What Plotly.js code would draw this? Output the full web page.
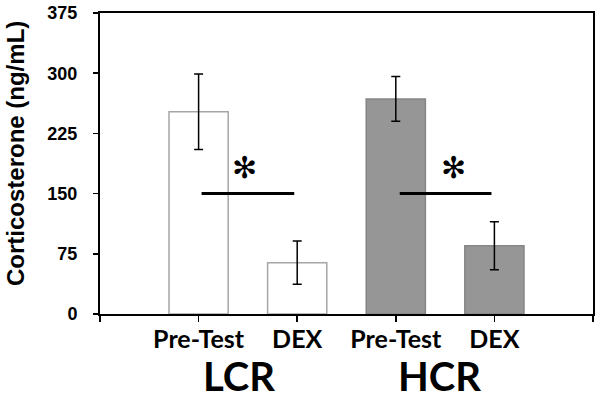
<!DOCTYPE html>
<html>
<head>
<meta charset="utf-8">
<script src="https://cdn.plot.ly/plotly-3.0.1.min.js"></script>
<style>html,body{margin:0;padding:0;background:#fff;}#chart{width:600px;height:402px;}</style>
</head>
<body>
<div id="chart"></div>
<script>
// Data
const groups = ["LCR", "HCR"];
const conditions = ["Pre-Test", "DEX"];
const lcrMeans = [252, 64];
const lcrErrors = [47, 27];
const hcrMeans = [268, 85];
const hcrErrors = [28, 30];
const sigLevel = 150;
const sigMark = "✻";
const yTicks = [0, 75, 150, 225, 300, 375];
const yTitle = "Corticosterone (ng/mL)";

// Positions from indices
const lcrX = conditions.map((c, i) => i + 1);
const hcrX = conditions.map((c, i) => i + 3);

const traces = [
  {
    type: "bar", x: lcrX, y: lcrMeans, width: 0.6,
    marker: {color: "#ffffff", line: {color: "#a6a6a6", width: 1.5}},
    error_y: {type: "data", array: lcrErrors, visible: true, color: "#000", thickness: 1.5, width: 4.5},
    hoverinfo: "skip", showlegend: false
  },
  {
    type: "bar", x: hcrX, y: hcrMeans, width: 0.6,
    marker: {color: "#969696", line: {color: "#858585", width: 1.5}},
    error_y: {type: "data", array: hcrErrors, visible: true, color: "#000", thickness: 1.5, width: 4.5},
    hoverinfo: "skip", showlegend: false
  },
  {
    type: "scatter", mode: "lines", x: [lcrX[0] + 0.03, lcrX[1] - 0.03], y: [sigLevel, sigLevel],
    line: {color: "#000", width: 3}, hoverinfo: "skip", showlegend: false
  },
  {
    type: "scatter", mode: "lines", x: [hcrX[0] + 0.04, hcrX[1] - 0.03], y: [sigLevel, sigLevel],
    line: {color: "#000", width: 3}, hoverinfo: "skip", showlegend: false
  }
];

const tickvals = [0].concat(lcrX, hcrX, [5]);
const ticktext = [""].concat(conditions, conditions, [""]);

const layout = {
  width: 600, height: 402,
  margin: {l: 100, r: 7, t: 13, b: 88},
  paper_bgcolor: "#fff", plot_bgcolor: "#fff",
  bargap: 0,
  xaxis: {
    range: [0, 5], tickvals: tickvals, ticktext: ticktext,
    showline: true, mirror: true, linecolor: "#000", linewidth: 2,
    ticks: "outside", ticklen: 6, tickwidth: 1.5, tickcolor: "#000",
    showgrid: false, zeroline: false,
    tickfont: {family: "Lato, 'Open Sans', sans-serif", size: 25, color: "#000", weight: "bold"},
    ticklabelstandoff: -4
  },
  yaxis: {
    range: [0, 375], tickvals: yTicks,
    showline: true, mirror: true, linecolor: "#000", linewidth: 2,
    ticks: "outside", ticklen: 5, tickwidth: 1.5, tickcolor: "#000",
    showgrid: false, zeroline: false,
    tickfont: {family: "'Liberation Sans', Arial, sans-serif", size: 18, color: "#000", weight: "bold"},
    ticklabelstandoff: 12
  },
  annotations: [
    {x: -0.17, y: 0.532, xref: "paper", yref: "paper", text: yTitle, textangle: -90, showarrow: false,
      xanchor: "center", yanchor: "middle",
      font: {family: "'Liberation Sans', Arial, sans-serif", size: 24, color: "#000", weight: "bold"}},
    {x: 1.41, y: -0.205, xref: "x", yref: "paper", text: groups[0], showarrow: false,
      font: {family: "Lato, 'Open Sans', sans-serif", size: 40, color: "#000", weight: "bold"}, yanchor: "middle"},
    {x: 3.44, y: -0.205, xref: "x", yref: "paper", text: groups[1], showarrow: false,
      font: {family: "Lato, 'Open Sans', sans-serif", size: 40, color: "#000", weight: "bold"}, yanchor: "middle"},
    {x: 1.47, y: 183, xref: "x", yref: "y", text: sigMark, showarrow: false,
      font: {family: "'DejaVu Sans', sans-serif", size: 30, color: "#000"}, yanchor: "middle"},
    {x: 3.59, y: 182, xref: "x", yref: "y", text: sigMark, showarrow: false,
      font: {family: "'DejaVu Sans', sans-serif", size: 30, color: "#000"}, yanchor: "middle"}
  ]
};

Plotly.newPlot("chart", traces, layout, {staticPlot: true, displayModeBar: false});
</script>
</body>
</html>
